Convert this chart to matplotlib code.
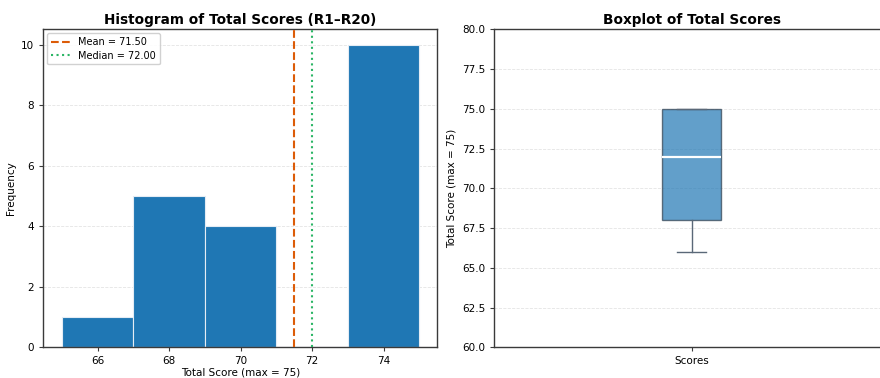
import numpy as np
import matplotlib
matplotlib.use("Agg")
import matplotlib.pyplot as plt

# Total scores for rounds R1–R20
scores = [66, 67, 67, 68, 68, 68, 69, 69, 70, 70,
          74, 74, 75, 75, 75, 75, 75, 75, 75, 75]
bin_edges = [65, 67, 69, 71, 73, 75]
hist_xticks = [66, 68, 70, 72, 74]
box_yticks = [60.0, 62.5, 65.0, 67.5, 70.0, 72.5, 75.0, 77.5, 80.0]

mean_val = float(np.mean(scores))
median_val = float(np.median(scores))

plt.rcParams["font.family"] = ["DejaVu Sans"]
fig = plt.figure(figsize=(8.8, 3.78), dpi=100)
ax1 = fig.add_axes([0.0492, 0.0812, 0.4477, 0.841])
ax2 = fig.add_axes([0.5614, 0.0812, 0.449, 0.841])

spine_col = "#3a3a3a"

# Histogram
ax1.hist(scores, bins=bin_edges, color="#1f77b4", edgecolor="#e4ecf4", linewidth=0.8, zorder=2)
ax1.axvline(mean_val, color="#dc5c08", linestyle="--", linewidth=1.5,
            label=f"Mean = {mean_val:.2f}", zorder=3)
ax1.axvline(median_val, color="#2bb565", linestyle=":", linewidth=1.5,
            label=f"Median = {median_val:.2f}", zorder=3)
ax1.set_title("Histogram of Total Scores (R1–R20)", fontsize=9.8, fontweight="bold", pad=4)
ax1.set_xlabel("Total Score (max = 75)", fontsize=7.5, labelpad=1)
ax1.set_ylabel("Frequency", fontsize=7.5, labelpad=4)
ax1.set_xticks(hist_xticks)
ax1.set_xlim(64.48, 75.5)
ax1.set_ylim(0, 10.5)
ax1.grid(axis="y", linestyle="--", color="#dddddd", linewidth=0.6, alpha=0.8, zorder=0)
ax1.set_axisbelow(True)
ax1.legend(loc="upper left", fontsize=7, framealpha=0.9, borderpad=0.4,
           handlelength=2.0, labelspacing=0.35, borderaxespad=0.4)

# Boxplot
bp = ax2.boxplot([scores], patch_artist=True, widths=0.15,
                 tick_labels=["Scores"])
for box in bp["boxes"]:
    box.set_facecolor("#1f77b4")
    box.set_alpha(0.7)
    box.set_edgecolor("#2f3e4e")
    box.set_linewidth(1.0)
for med in bp["medians"]:
    med.set_color("white")
    med.set_linewidth(1.6)
for w in bp["whiskers"] + bp["caps"]:
    w.set_color("#5a6878")
    w.set_linewidth(1.0)
ax2.set_title("Boxplot of Total Scores", fontsize=9.8, fontweight="bold", pad=4)
ax2.set_ylabel("Total Score (max = 75)", fontsize=7.5, labelpad=4)
ax2.set_ylim(60, 80)
ax2.set_yticks(box_yticks)
ax2.set_yticklabels([f"{t:.1f}" for t in box_yticks])
ax2.grid(axis="y", linestyle="--", color="#dddddd", linewidth=0.6, alpha=0.8)
ax2.set_axisbelow(True)

for ax in (ax1, ax2):
    ax.tick_params(labelsize=7.5, length=3, color=spine_col)
    for s in ax.spines.values():
        s.set_color(spine_col)
        s.set_linewidth(1.0)

fig.savefig("out.png", dpi=100)
